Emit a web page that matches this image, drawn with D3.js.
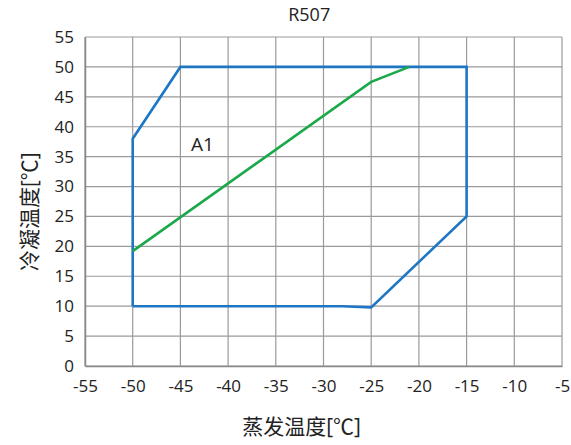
<!DOCTYPE html>
<html>
<head>
<meta charset="utf-8">
<script src="https://cdn.jsdelivr.net/npm/d3@7"></script>
<style>
  body { margin: 0; background: #fff; }
  text { font-family: "Open Sans", "Noto Sans CJK SC", sans-serif; fill: #222; }
</style>
</head>
<body>
<div id="chart"></div>
<script>
var xTicks = [-55, -50, -45, -40, -35, -30, -25, -20, -15, -10, -5];
var yTicks = [0, 5, 10, 15, 20, 25, 30, 35, 40, 45, 50, 55];

// operating envelope A1 (evaporating, condensing)
var envEvap = [-50, -50, -45, -15, -15, -25, -28, -50];
var envCond = [10, 38, 50, 50, 25, 9.8, 10, 10];

// green line
var lineEvap = [-50, -25, -21];
var lineCond = [19.2, 47.5, 50];

var margin = { top: 37, right: 9, bottom: 79, left: 85 },
    width = 571 - margin.left - margin.right,
    height = 445 - margin.top - margin.bottom;

var xscale = d3.scaleLinear().domain([-55, -5]).range([0, width]);
var yscale = d3.scaleLinear().domain([0, 55]).range([height, 0]);

var svg = d3.select("#chart").append("svg")
    .attr("width", 571)
    .attr("height", 445)
    .append("g")
    .attr("transform", "translate(" + margin.left + "," + margin.top + ")");

// grid
svg.append("g").selectAll("line").data(xTicks).enter().append("line")
    .attr("x1", function (d) { return xscale(d); })
    .attr("x2", function (d) { return xscale(d); })
    .attr("y1", 0).attr("y2", height)
    .attr("stroke", "#9a9a9a").attr("stroke-width", 1.2);
svg.append("g").selectAll("line").data(yTicks).enter().append("line")
    .attr("y1", function (d) { return yscale(d); })
    .attr("y2", function (d) { return yscale(d); })
    .attr("x1", 0).attr("x2", width)
    .attr("stroke", "#9a9a9a").attr("stroke-width", 1.2);

// axes (plain hyphen for negatives, like the original)
var fmt = function (d) { return String(d); };
var xAxis = svg.append("g")
    .attr("transform", "translate(0," + height + ")")
    .call(d3.axisBottom(xscale).tickValues(xTicks).tickFormat(fmt).tickSize(0).tickPadding(14));
var yAxis = svg.append("g")
    .call(d3.axisLeft(yscale).tickValues(yTicks).tickFormat(fmt).tickSize(0).tickPadding(11));
[xAxis, yAxis].forEach(function (a) {
    a.select(".domain").attr("stroke", "#888").attr("stroke-width", 1.5);
    a.selectAll("text").style("font-size", "17px").attr("fill", "#222");
});

// title
svg.append("text")
    .attr("x", xscale(-31.5)).attr("y", -16)
    .attr("text-anchor", "middle")
    .style("font-size", "18px")
    .text("R507");

// axis labels
svg.append("text")
    .attr("x", xscale(-32.3)).attr("y", height + 68)
    .attr("text-anchor", "middle")
    .style("font-size", "21px")
    .text("蒸发温度[℃]");

svg.append("text")
    .attr("text-anchor", "middle")
    .attr("transform", "translate(-48," + yscale(25.8) + ")rotate(-90)")
    .style("font-size", "21px")
    .text("冷凝温度[℃]");

var line = d3.line()
    .x(function (d) { return xscale(d[0]); })
    .y(function (d) { return yscale(d[1]); });

var envPts = envEvap.map(function (e, i) { return [e, envCond[i]]; });
svg.append("path")
    .datum(envPts)
    .attr("d", line)
    .attr("fill", "none")
    .attr("stroke", "#1f77c4")
    .attr("stroke-width", 2.6);

var linePts = lineEvap.map(function (e, i) { return [e, lineCond[i]]; });
svg.append("path")
    .datum(linePts)
    .attr("d", line)
    .attr("fill", "none")
    .attr("stroke", "#1aa84a")
    .attr("stroke-width", 2.6);

svg.append("text")
    .attr("x", xscale(-42.7)).attr("y", yscale(36))
    .attr("text-anchor", "middle")
    .style("font-size", "19px")
    .text("A1");
</script>
</body>
</html>
